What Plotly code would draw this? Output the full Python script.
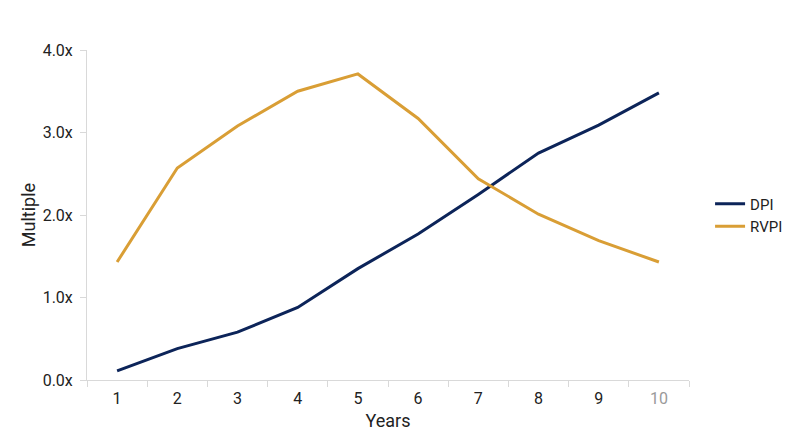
import plotly.graph_objects as go

years = ["1", "2", "3", "4", "5", "6", "7", "8", "9", "10"]
dpi = [0.11, 0.38, 0.58, 0.88, 1.35, 1.77, 2.25, 2.75, 3.09, 3.48]
rvpi = [1.43, 2.57, 3.08, 3.50, 3.71, 3.17, 2.44, 2.01, 1.69, 1.43]
y_ticks = [0, 1, 2, 3, 4]
y_labels = ["0.0x", "1.0x", "2.0x", "3.0x", "4.0x"]
x_labels = years[:-1] + ["<span style='color:#9a9a9a'>10</span>"]

navy = "#0c2459"
gold = "#d99e35"

fig = go.Figure()
fig.add_trace(go.Scatter(x=years, y=dpi, mode="lines", name="DPI",
                         line=dict(color=navy, width=3)))
fig.add_trace(go.Scatter(x=years, y=rvpi, mode="lines", name="RVPI",
                         line=dict(color=gold, width=3)))

# page body has an 8px margin, so the figure is a bit smaller than the window
fig.update_layout(
    width=792, height=439,
    margin=dict(l=79, r=101, t=42, b=67),
    plot_bgcolor="white", paper_bgcolor="white",
    font=dict(family="Roboto", size=15, color="#222222"),
    legend=dict(x=1.035, y=0.5, yanchor="middle", font=dict(size=15),
                itemwidth=30, tracegroupgap=4),
)
fig.update_xaxes(
    type="category", tickvals=years, ticktext=x_labels,
    range=[-0.5, 9.5],
    title=dict(text="Years", standoff=7),
    tickfont=dict(size=16), ticklabelstandoff=4,
    showline=True, linecolor="#d9d9d9", linewidth=1,
    ticks="outside", ticklen=6, tickcolor="#d9d9d9",
    tickson="boundaries", showgrid=False, automargin=False,
)
fig.update_yaxes(
    range=[0, 4], tickvals=y_ticks, ticktext=y_labels,
    title=dict(text="Multiple", standoff=2),
    tickfont=dict(size=16), ticklabelstandoff=4,
    showline=True, linecolor="#d9d9d9", linewidth=1,
    ticks="outside", ticklen=6, tickcolor="#d9d9d9",
    showgrid=False, zeroline=False, automargin=False,
)

fig.write_html("out.html")
